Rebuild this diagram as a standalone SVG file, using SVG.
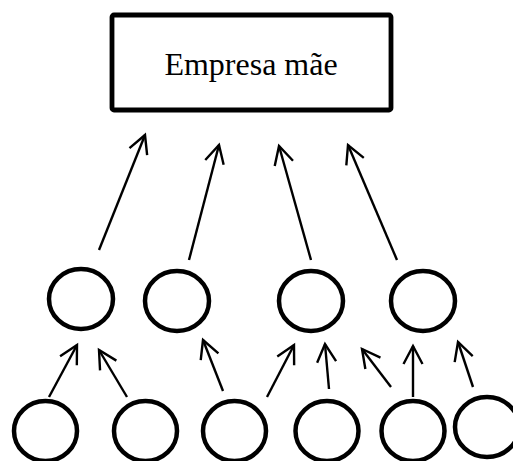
<svg xmlns="http://www.w3.org/2000/svg" width="513" height="461" viewBox="0 0 513 461">
<defs>
<style>
.node{fill:none;stroke:#000;stroke-width:4.5}
.box{fill:#fff;stroke:#000;stroke-width:4.8}
.lbl{font-family:"Liberation Serif","Times New Roman",serif;font-size:32px;fill:#000;text-anchor:middle}
.edge{stroke:#000;stroke-width:2.4;fill:none;marker-end:url(#arr)}
</style>
<marker id="arr" markerUnits="userSpaceOnUse" viewBox="-22 -12 26 24" refX="0" refY="0" markerWidth="26" markerHeight="24" orient="auto">
<path d="M-18,-9.5 L0,0 L-18,9.5" fill="none" stroke="#000" stroke-width="2.4"/>
</marker>
</defs>
<rect width="513" height="461" fill="#fff"/>
<g id="empresa-mae">
<rect class="box" x="112" y="15" width="279" height="95" rx="2"/>
<text class="lbl" x="251" y="75">Empresa mãe</text>
</g>
<g id="m1"><ellipse class="node" cx="81" cy="299" rx="32" ry="30"/></g>
<g id="m2"><ellipse class="node" cx="177" cy="301" rx="32" ry="30"/></g>
<g id="m3"><ellipse class="node" cx="311" cy="301" rx="32" ry="30"/></g>
<g id="m4"><ellipse class="node" cx="423" cy="301" rx="32" ry="30"/></g>
<g id="b1"><ellipse class="node" cx="45.5" cy="431" rx="31.5" ry="30"/></g>
<g id="b2"><ellipse class="node" cx="145.5" cy="431" rx="31.5" ry="30"/></g>
<g id="b3"><ellipse class="node" cx="234.5" cy="431" rx="31.5" ry="30"/></g>
<g id="b4"><ellipse class="node" cx="327" cy="431" rx="31.5" ry="30"/></g>
<g id="b5"><ellipse class="node" cx="413" cy="431" rx="31.5" ry="30"/></g>
<g id="b6"><ellipse class="node" cx="487" cy="427" rx="32" ry="30"/></g>
<g id="connectors">
<line class="edge" x1="99" y1="250" x2="145" y2="135"/>
<line class="edge" x1="189" y1="260" x2="219" y2="145"/>
<line class="edge" x1="311" y1="260" x2="279" y2="146"/>
<line class="edge" x1="397" y1="260" x2="348" y2="145"/>
<line class="edge" x1="49" y1="397" x2="77" y2="345"/>
<line class="edge" x1="127" y1="397" x2="99" y2="350"/>
<line class="edge" x1="223" y1="391" x2="203" y2="340"/>
<line class="edge" x1="267" y1="397" x2="294" y2="345"/>
<line class="edge" x1="329" y1="389" x2="325" y2="344"/>
<line class="edge" x1="391" y1="387" x2="362" y2="349"/>
<line class="edge" x1="413" y1="397" x2="413" y2="346"/>
<line class="edge" x1="473" y1="387" x2="458" y2="342"/>
</g>
</svg>
